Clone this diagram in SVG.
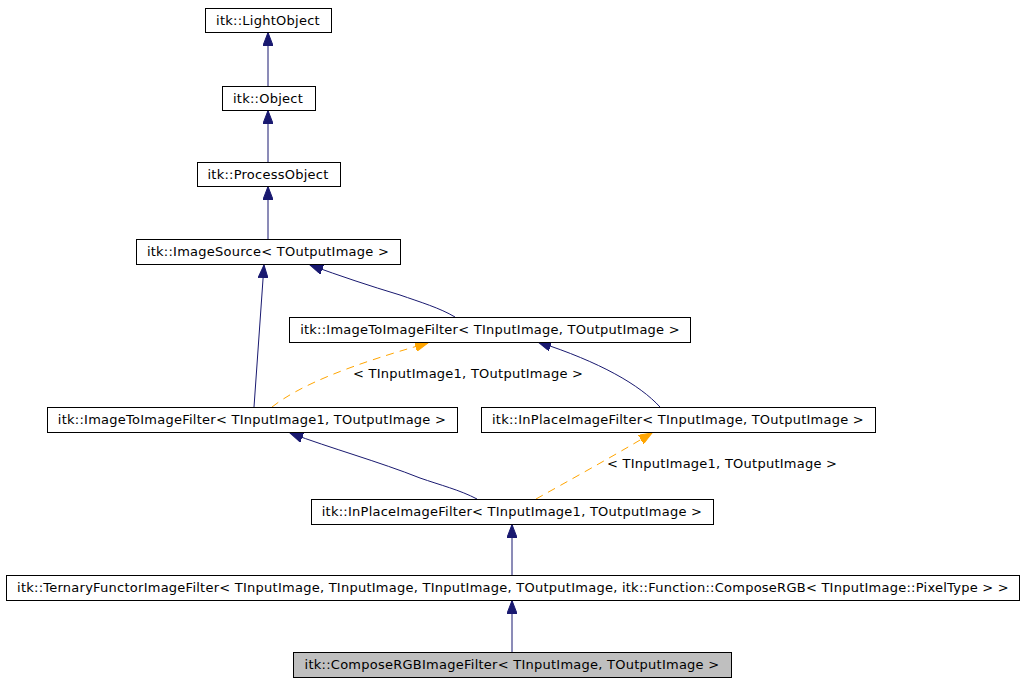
<svg xmlns="http://www.w3.org/2000/svg" width="1024" height="683" viewBox="0 0 1024 683">
<style>
.n rect{fill:#fff;stroke:#000;stroke-width:1}
text{font-family:"DejaVu Sans",sans-serif;font-size:13px;letter-spacing:0.25px;fill:#000}
.e{fill:none;stroke:#191970;stroke-width:1}
.d{fill:none;stroke:#ffa500;stroke-width:1;stroke-dasharray:8,6}
</style>
<defs>
<marker id="a" markerWidth="14" markerHeight="10" refX="13" refY="5" orient="auto" markerUnits="userSpaceOnUse"><path d="M0,0L13,5L0,10z" fill="#191970" stroke="#191970"/></marker>
<marker id="o" markerWidth="14" markerHeight="10" refX="13" refY="5" orient="auto" markerUnits="userSpaceOnUse"><path d="M0,0L13,5L0,10z" fill="#ffa500" stroke="#ffa500"/></marker>
</defs>
<rect width="1024" height="683" fill="#fff"/>
<g id="edges">
<path class="e" d="M268,86V32.5" marker-end="url(#a)"/>
<path class="e" d="M268,162V110.5" marker-end="url(#a)"/>
<path class="e" d="M268,239V186.5" marker-end="url(#a)"/>
<path class="e" d="M455,317C440,308 420,302 400,295C370,286 340,276 310,265" marker-end="url(#a)"/>
<path class="e" d="M254,407L264,265" marker-end="url(#a)"/>
<path class="d" d="M272,407C300,385 350,365 428,343" marker-end="url(#o)"/>
<path class="e" d="M660,407C640,385 600,362 538,342" marker-end="url(#a)"/>
<path class="e" d="M477,499C460,490 440,485 420,478C380,462 330,448 290,433" marker-end="url(#a)"/>
<path class="d" d="M536,499C570,480 610,458 652,433" marker-end="url(#o)"/>
<path class="e" d="M512,575V524.5" marker-end="url(#a)"/>
<path class="e" d="M512,652V600.5" marker-end="url(#a)"/>
<text x="353" y="378">&lt; TInputImage1, TOutputImage &gt;</text>
<text x="607" y="468">&lt; TInputImage1, TOutputImage &gt;</text>
</g>
<g id="n1" class="n"><rect x="205.5" y="8.5" width="126" height="24"/><text x="268" y="25" text-anchor="middle">itk::LightObject</text></g>
<g id="n2" class="n"><rect x="222.5" y="86.5" width="93" height="24"/><text x="268" y="103" text-anchor="middle">itk::Object</text></g>
<g id="n3" class="n"><rect x="197.5" y="162.5" width="143" height="24"/><text x="268" y="179" text-anchor="middle">itk::ProcessObject</text></g>
<g id="n4" class="n"><rect x="136.5" y="239.5" width="264" height="25"/><text x="268" y="256" text-anchor="middle">itk::ImageSource&lt; TOutputImage &gt;</text></g>
<g id="n5" class="n"><rect x="289.5" y="317.5" width="401" height="25"/><text x="490" y="334" text-anchor="middle">itk::ImageToImageFilter&lt; TInputImage, TOutputImage &gt;</text></g>
<g id="n6" class="n"><rect x="47.5" y="407.5" width="410" height="25"/><text x="252" y="424" text-anchor="middle">itk::ImageToImageFilter&lt; TInputImage1, TOutputImage &gt;</text></g>
<g id="n7" class="n"><rect x="481.5" y="407.5" width="394" height="25"/><text x="678" y="424" text-anchor="middle">itk::InPlaceImageFilter&lt; TInputImage, TOutputImage &gt;</text></g>
<g id="n8" class="n"><rect x="311.5" y="499.5" width="402" height="25"/><text x="512" y="516" text-anchor="middle">itk::InPlaceImageFilter&lt; TInputImage1, TOutputImage &gt;</text></g>
<g id="n9" class="n"><rect x="6.5" y="575.5" width="1013" height="25"/><text x="513" y="592" text-anchor="middle">itk::TernaryFunctorImageFilter&lt; TInputImage, TInputImage, TInputImage, TOutputImage, itk::Function::ComposeRGB&lt; TInputImage::PixelType &gt; &gt;</text></g>
<g id="n10" class="n"><rect x="293.5" y="652.5" width="438" height="25" style="fill:#bfbfbf"/><text x="512" y="669" text-anchor="middle">itk::ComposeRGBImageFilter&lt; TInputImage, TOutputImage &gt;</text></g>
</svg>
